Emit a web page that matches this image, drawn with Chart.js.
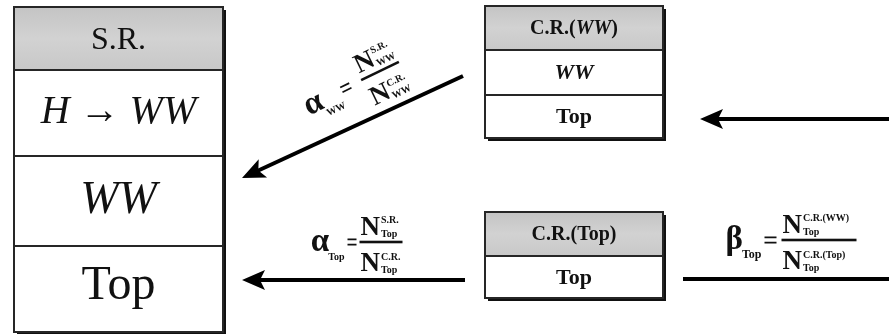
<!DOCTYPE html>
<html>
<head>
<meta charset="utf-8">
<script src="https://cdn.jsdelivr.net/npm/chart.js@4.4.1/dist/chart.umd.min.js"></script>
<style>
  html, body { margin: 0; padding: 0; background: #ffffff; }
  #wrap { width: 889px; height: 334px; }
  canvas { display: block; }
</style>
</head>
<body>
<div id="wrap"><canvas id="c" width="889" height="334"></canvas></div>
<script>
// Region tables: header row first, then the processes in that region.
// Text between asterisks is set in italics.
const srRows    = ['S.R.', '*H* \u2192 *WW*', '*WW*', 'Top'];
const crWWRows  = ['C.R.(*WW*)', '*WW*', 'Top'];
const crTopRows = ['C.R.(Top)', 'Top'];

// Transfer factors: symbol, its subscript, and the N ratio superscripts / subscript
const factorSymbols = ['\u03B1', '\u03B1', '\u03B2'];
const factorSubs    = ['WW', 'Top', 'Top'];
const numeratorSups = ['S.R.', 'S.R.', 'C.R.(WW)'];
const denominatorSups = ['C.R.', 'C.R.', 'C.R.(Top)'];
const ratioSubs     = ['WW', 'Top', 'Top'];

// Arrows between regions (diagram units: x 0..889, y 0..334)
const arrowFrom    = [[900, 119], [463, 76], [465, 280], [900, 279]];
const arrowTo      = [[700, 119], [242, 178], [242, 280], [683, 279]];
const arrowHasHead = [true, true, true, false];

// ---- layout ----
const SERIF = '"Liberation Serif", "DejaVu Serif", serif';
const boxes = [
  { rows: srRows, x0: 14, x1: 223, ys: [7, 70, 156, 246, 332], dy: [2, -1, 0, -3],
    fonts: ['32px', '40px', '46px', '48px'], weight: '' },
  { rows: crWWRows, x0: 485, x1: 663, ys: [6, 50, 95, 138], dy: [1, 1, 1],
    fonts: ['20px', '22px', '22px'], weight: 'bold ' },
  { rows: crTopRows, x0: 485, x1: 663, ys: [212, 256, 298], dy: [1, 1],
    fonts: ['20px', '22px'], weight: 'bold ' }
];
const factorLayout = [
  { c: [380, 71], w: 42, angle: -26, gap: 9, sub: 10, eq: 10 },
  { c: [381, 242], w: 43, angle: 0, gap: 0, sub: 10, eq: 9 },
  { c: [819, 240], w: 75, angle: 0, gap: 2, sub: 12, eq: 12 }
];
const HEAD_LEN = 23, HEAD_HALF = 10, HEAD_NOTCH = 5;

function unit(a, b) {
  const dx = b[0] - a[0], dy = b[1] - a[1];
  const l = Math.hypot(dx, dy);
  return [dx / l, dy / l];
}

// Shaft datasets: stop the shaft inside the arrowhead so the tip stays sharp
const datasets = arrowFrom.map((from, i) => {
  const to = arrowTo[i];
  let end = to;
  if (arrowHasHead[i]) {
    const u = unit(from, to);
    end = [to[0] - u[0] * (HEAD_LEN - 8), to[1] - u[1] * (HEAD_LEN - 8)];
  }
  return {
    data: [{ x: from[0], y: from[1] }, { x: end[0], y: end[1] }],
    showLine: true,
    borderColor: '#000000',
    borderWidth: 4,
    borderCapStyle: 'butt',
    pointRadius: 0,
    pointHoverRadius: 0
  };
});

function drawRich(ctx, text, cx, cy, size, weight) {
  const parts = text.split('*');
  const segs = parts.map((t, k) => ({ t, font: (k % 2 ? 'italic ' : '') + weight + size + ' ' + SERIF }))
                    .filter(s => s.t.length);
  let total = 0;
  segs.forEach(s => { ctx.font = s.font; s.w = ctx.measureText(s.t).width; total += s.w; });
  let x = cx - total / 2;
  ctx.textAlign = 'left';
  ctx.textBaseline = 'middle';
  segs.forEach(s => { ctx.font = s.font; ctx.fillText(s.t, x, cy); x += s.w; });
}

function drawBox(ctx, b, px, py) {
  const x0 = px(b.x0), x1 = px(b.x1);
  const ys = b.ys.map(py);
  const top = ys[0], bot = ys[ys.length - 1];
  // drop shadow
  ctx.fillStyle = '#111111';
  ctx.fillRect(x0 + 3, top + 3, x1 - x0, bot - top);
  ctx.fillStyle = '#ffffff';
  ctx.fillRect(x0, top, x1 - x0, bot - top);
  // grey header
  const g = ctx.createLinearGradient(0, ys[0], 0, ys[1]);
  g.addColorStop(0, '#c4c4c4');
  g.addColorStop(0.5, '#d2d2d2');
  g.addColorStop(1, '#c8c8c8');
  ctx.fillStyle = g;
  ctx.fillRect(x0, ys[0], x1 - x0, ys[1] - ys[0]);
  // frame and row rules
  ctx.strokeStyle = '#262626';
  ctx.lineWidth = 2;
  ctx.strokeRect(x0, top, x1 - x0, bot - top);
  for (let k = 1; k < ys.length - 1; k++) {
    ctx.beginPath(); ctx.moveTo(x0, ys[k]); ctx.lineTo(x1, ys[k]); ctx.stroke();
  }
  ctx.fillStyle = '#111111';
  b.rows.forEach((r, k) => {
    drawRich(ctx, r, (x0 + x1) / 2, (ys[k] + ys[k + 1]) / 2 + b.dy[k], b.fonts[k], b.weight);
  });
}

function drawFactor(ctx, i, px, py) {
  const L = factorLayout[i];
  const w = L.w, half = w / 2, gap = L.gap;
  ctx.save();
  ctx.translate(px(L.c[0]), py(L.c[1]));
  ctx.rotate(L.angle * Math.PI / 180);
  ctx.fillStyle = '#111111';
  ctx.strokeStyle = '#111111';
  // fraction bar
  ctx.fillRect(-half, -1.3, w, 2.6);
  const big = 'bold 27px ' + SERIF, small = 'bold 10px ' + SERIF;
  ctx.textAlign = 'left';
  ctx.textBaseline = 'alphabetic';
  ctx.font = big;
  const nW = ctx.measureText('N').width;
  ctx.fillText('N', -half + 1, -7);
  ctx.fillText('N', -half + 1, 29);
  ctx.font = small;
  ctx.fillText(numeratorSups[i], -half + 2 + nW, -19);
  ctx.fillText(ratioSubs[i], -half + 2 + nW, -5);
  ctx.fillText(denominatorSups[i], -half + 2 + nW, 18);
  ctx.fillText(ratioSubs[i], -half + 2 + nW, 31);
  // equals sign
  const eR = -half - 3 - gap, eL = eR - L.eq;
  ctx.lineWidth = 1.8;
  ctx.beginPath();
  ctx.moveTo(eL, -2.6); ctx.lineTo(eR, -2.6);
  ctx.moveTo(eL, 2.6);  ctx.lineTo(eR, 2.6);
  ctx.stroke();
  // symbol with subscript
  ctx.textAlign = 'right';
  ctx.font = 'bold ' + L.sub + 'px ' + SERIF;
  const subW = ctx.measureText(factorSubs[i]).width;
  const subR = eL - 3;
  ctx.fillText(factorSubs[i], subR, 18);
  ctx.font = 'bold 33px ' + SERIF;
  ctx.fillText(factorSymbols[i], subR - subW + 1, 9);
  ctx.restore();
}

function drawHead(ctx, from, to) {
  const u = unit(from, to);
  const n = [-u[1], u[0]];
  const t = to;
  ctx.fillStyle = '#000000';
  ctx.beginPath();
  ctx.moveTo(t[0], t[1]);
  ctx.lineTo(t[0] - u[0] * HEAD_LEN + n[0] * HEAD_HALF, t[1] - u[1] * HEAD_LEN + n[1] * HEAD_HALF);
  ctx.lineTo(t[0] - u[0] * (HEAD_LEN - HEAD_NOTCH), t[1] - u[1] * (HEAD_LEN - HEAD_NOTCH));
  ctx.lineTo(t[0] - u[0] * HEAD_LEN - n[0] * HEAD_HALF, t[1] - u[1] * HEAD_LEN - n[1] * HEAD_HALF);
  ctx.closePath();
  ctx.fill();
}

const diagram = {
  id: 'diagram',
  afterDatasetsDraw(chart) {
    const ctx = chart.ctx;
    const xs = chart.scales.x, yS = chart.scales.y;
    const px = v => xs.getPixelForValue(v);
    const py = v => yS.getPixelForValue(v);
    ctx.save();
    boxes.forEach(b => drawBox(ctx, b, px, py));
    arrowTo.forEach((to, i) => {
      if (!arrowHasHead[i]) return;
      const f = arrowFrom[i];
      drawHead(ctx, [px(f[0]), py(f[1])], [px(to[0]), py(to[1])]);
    });
    factorSymbols.forEach((s, i) => drawFactor(ctx, i, px, py));
    ctx.restore();
  }
};

new Chart(document.getElementById('c'), {
  type: 'scatter',
  data: { datasets },
  options: {
    responsive: false,
    animation: false,
    devicePixelRatio: 1,
    events: [],
    layout: { padding: 0 },
    plugins: { legend: { display: false }, tooltip: { enabled: false } },
    scales: {
      x: { type: 'linear', min: 0, max: 889, display: false },
      y: { type: 'linear', min: 0, max: 334, reverse: true, display: false }
    }
  },
  plugins: [diagram]
});
</script>
</body>
</html>
